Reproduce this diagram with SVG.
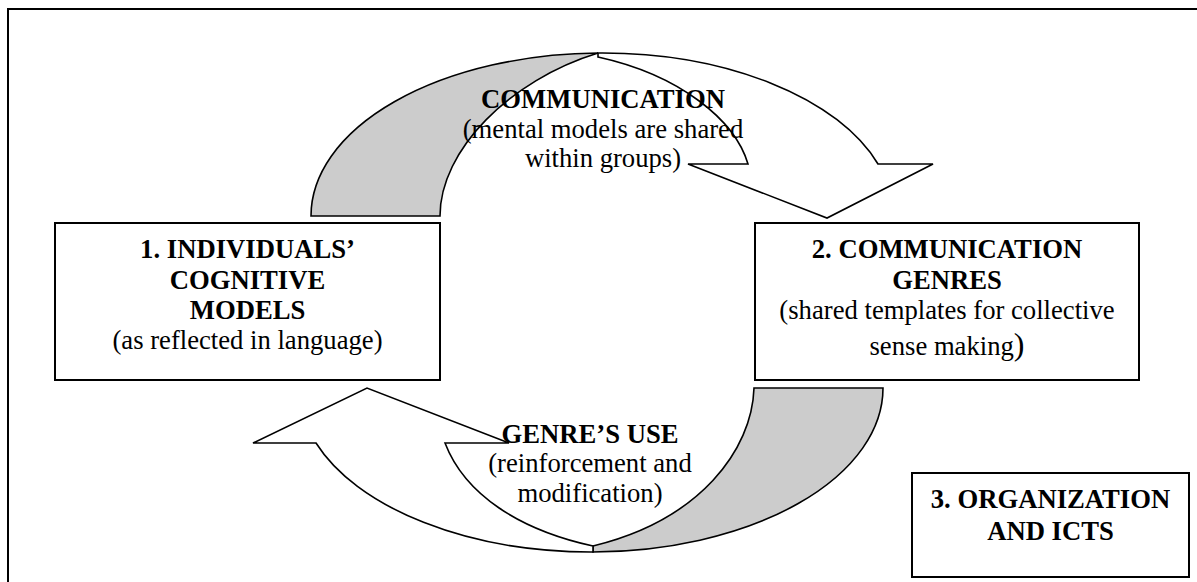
<svg xmlns="http://www.w3.org/2000/svg" width="1197" height="582" viewBox="0 0 1197 582">
<style>
.frame{fill:none;stroke:#000;stroke-width:2}
.box{fill:#fff;stroke:#000;stroke-width:2}
.band{fill:#cccccc;stroke:#000;stroke-width:1.6;stroke-linejoin:miter}
.arrow{fill:#fff;stroke:#000;stroke-width:1.6;stroke-linejoin:miter}
.t{font-family:'Liberation Serif','DejaVu Serif',serif;font-size:26.67px;fill:#000;text-anchor:middle}
.b{font-weight:bold}
</style>
<rect width="1197" height="582" fill="#fff"/>
<path class="frame" d="M8,600 V9 H1210"/>
<g id="connectors">
  <g id="arrow-communication">
    <path class="band" d="M311,216 A291,163 0 0 1 598,53 C510,80 440,150 440,216 Z"/>
    <path class="arrow" d="M598,53 A291,163 0 0 1 878,164 L933,164 L827,218 L688,164 L748,164 C735,120 680,75 598,57 Z"/>
  </g>
  <g id="arrow-genre-use">
    <path class="band" d="M883,388 A292,164 0 0 1 593,552 L593,546 C700,520 752,450 754,388 Z"/>
    <path class="arrow" d="M593,552 A292,164 0 0 1 316,443 L253,443 L367,388 L509,443 L445,443 C465,495 520,530 593,546 Z"/>
  </g>
</g>
<g id="label-communication">
  <text x="603" y="108" class="t b">COMMUNICATION</text>
  <text x="603" y="138" class="t">(mental models are shared</text>
  <text x="603" y="167" class="t">within groups)</text>
</g>
<g id="label-genre-use">
  <text x="590" y="443" class="t b">GENRE’S USE</text>
  <text x="590" y="472" class="t">(reinforcement and</text>
  <text x="590" y="502" class="t">modification)</text>
</g>
<g id="node-1">
  <rect class="box" x="55" y="223" width="385" height="157"/>
  <text x="247.5" y="258" class="t b">1. INDIVIDUALS’</text>
  <text x="247.5" y="288.5" class="t b">COGNITIVE</text>
  <text x="247.5" y="319" class="t b">MODELS</text>
  <text x="247.5" y="349" class="t">(as reflected in language)</text>
</g>
<g id="node-2">
  <rect class="box" x="755" y="223" width="384" height="157"/>
  <text x="947" y="258" class="t b">2. COMMUNICATION</text>
  <text x="947" y="288.5" class="t b">GENRES</text>
  <text x="947" y="319" class="t">(shared templates for collective</text>
  <text x="947" y="355" class="t">sense making<tspan font-size="32">)</tspan></text>
</g>
<g id="node-3">
  <rect class="box" x="912" y="473" width="277" height="104"/>
  <text x="1050.5" y="508" class="t b">3. ORGANIZATION</text>
  <text x="1050.5" y="540" class="t b">AND ICTS</text>
</g>
</svg>
